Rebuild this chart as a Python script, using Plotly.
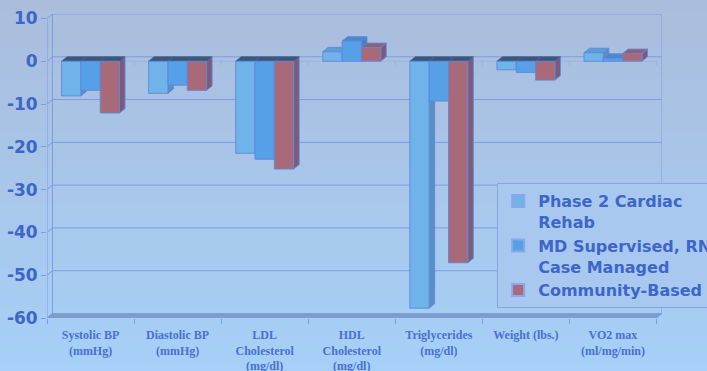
import plotly.graph_objects as go

# Change in risk factors by program type
categories = [
    "Systolic BP<br>(mmHg)",
    "Diastolic BP<br>(mmHg)",
    "LDL<br>Cholesterol<br>(mg/dl)",
    "HDL<br>Cholesterol<br>(mg/dl)",
    "Triglycerides<br>(mg/dl)",
    "Weight (lbs.)",
    "VO2 max<br>(ml/mg/min)",
]
series_names = [
    "Phase 2 Cardiac<br>Rehab",
    "MD Supervised, RN<br>Case Managed",
    "Community-Based",
]
phase2_rehab = [-8.1, -7.5, -21.5, 2.2, -57.7, -2.0, 2.0]
md_rn_managed = [-6.8, -5.6, -22.9, 4.7, -9.3, -2.6, 0.7]
community_based = [-12.1, -6.8, -25.2, 3.2, -47.1, -4.4, 1.8]
y_ticks = [10, 0, -10, -20, -30, -40, -50, -60]

series_values = [phase2_rehab, md_rn_managed, community_based]

# styling
Y_MIN, Y_MAX = -60, 10
DX, DY = 0.063, 1.05            # depth offset of the 3-D box (category units, value units)
GROUP_W = 0.666
BAR_W = GROUP_W / 3
front_cols = ["#6fb3ea", "#55a0e6", "#a86a78"]
side_cols = ["#5a8fc2", "#4680c2", "#7c5a78"]
top_pos_cols = ["#5c9dd6", "#4a88cc", "#93606f"]
cap_col = "#3d5673"
edge_col = "rgba(95,135,220,0.9)"
grid_col = "#7b9de0"
text_blue = "#3d66c8"

n = len(categories)
x_lo, x_hi = -0.5, n - 0.5

fig = go.Figure()

# background gradient bands
top_rgb = (170, 189, 220)
bot_rgb = (166, 208, 248)
fig_h, plot_top_px, plot_bot_px = 371, 14, 318
nb = 40
for b in range(nb):
    r0 = fig_h * b / nb
    r1 = fig_h * (b + 1) / nb + 1
    t = (b + 0.5) / nb
    c = tuple(round(top_rgb[k] + (bot_rgb[k] - top_rgb[k]) * t) for k in range(3))
    span = plot_bot_px - plot_top_px
    fig.add_shape(
        type="rect", xref="paper", yref="paper",
        x0=-0.2, x1=1.2,
        y0=(plot_bot_px - r1) / span, y1=(plot_bot_px - r0) / span,
        fillcolor="rgb(%d,%d,%d)" % c, line_width=0, layer="below",
    )

# back wall gridlines and left wall connectors
gx, gy = [], []
for g in y_ticks:
    gx += [x_lo, x_lo + DX, x_hi + DX, None]
    gy += [g, g + DY, g + DY, None]
# back wall vertical edges
gx += [x_lo + DX, x_lo + DX, None, x_hi + DX, x_hi + DX, None]
gy += [Y_MIN + DY, Y_MAX + DY, None, Y_MIN + DY, Y_MAX + DY, None]
fig.add_trace(go.Scatter(x=gx, y=gy, mode="lines", line=dict(color=grid_col, width=1),
                         hoverinfo="skip", showlegend=False))

# floor
fig.add_trace(go.Scatter(
    x=[x_lo, x_hi, x_hi + DX, x_lo + DX, x_lo],
    y=[Y_MIN, Y_MIN, Y_MIN + DY, Y_MIN + DY, Y_MIN],
    mode="lines", fill="toself", fillcolor="#7c9dca",
    line=dict(color="#7c9ee0", width=1), hoverinfo="skip", showlegend=False))

# front y-axis line
fig.add_trace(go.Scatter(x=[x_lo, x_lo], y=[Y_MIN, Y_MAX], mode="lines",
                         line=dict(color=grid_col, width=1), hoverinfo="skip", showlegend=False))

# zero category line with ticks at category boundaries
zx, zy = [x_lo, x_hi, None], [0, 0, None]
for i in range(n + 1):
    zx += [x_lo + i, x_lo + i, None]
    zy += [0, -1.0, None]
fig.add_trace(go.Scatter(x=zx, y=zy, mode="lines", line=dict(color="#9bb3e0", width=1),
                         hoverinfo="skip", showlegend=False))


def bar_faces(values, k):
    fx, fy, sx, sy, tx, ty, cx, cy = [], [], [], [], [], [], [], []
    for i, v in enumerate(values):
        x0 = i - GROUP_W / 2 + k * BAR_W
        x1 = x0 + BAR_W
        lo, hi = min(v, 0), max(v, 0)
        fx += [x0, x1, x1, x0, x0, None]
        fy += [lo, lo, hi, hi, lo, None]
        sx += [x1, x1 + DX, x1 + DX, x1, x1, None]
        sy += [lo, lo + DY, hi + DY, hi, lo, None]
        top = [x0, x1, x1 + DX, x0 + DX, x0, None]
        topy = [hi, hi, hi + DY, hi + DY, hi, None]
        if v >= 0:
            tx += top
            ty += topy
        else:
            cx += top
            cy += topy
    return (fx, fy), (sx, sy), (tx, ty), (cx, cy)


for k, (name, vals) in enumerate(zip(series_names, series_values)):
    (fx, fy), (sx, sy), (tx, ty), (cx, cy) = bar_faces(vals, k)
    common = dict(mode="lines", fill="toself", hoverinfo="skip", showlegend=False)
    fig.add_trace(go.Scatter(x=sx, y=sy, fillcolor=side_cols[k],
                             line=dict(color=edge_col, width=1), **common))
    if tx:
        fig.add_trace(go.Scatter(x=tx, y=ty, fillcolor=top_pos_cols[k],
                                 line=dict(color=edge_col, width=1), **common))
    if cx:
        fig.add_trace(go.Scatter(x=cx, y=cy, fillcolor=cap_col,
                                 line=dict(color="rgba(70,100,150,0.9)", width=1), **common))
    fig.add_trace(go.Scatter(x=fx, y=fy, fillcolor=front_cols[k],
                             line=dict(color=edge_col, width=1), **common))
    # legend entry
    fig.add_trace(go.Scatter(
        x=[None], y=[None], mode="markers", name=name,
        marker=dict(symbol="square", size=9, color=front_cols[k],
                    line=dict(color="#8aa8e8", width=1)),
        showlegend=True))

# boundary tick marks under the floor
fig.add_trace(go.Scatter(x=[None], y=[None], xaxis="x2", showlegend=False, hoverinfo="skip"))

fig.update_layout(
    width=707, height=371,
    margin=dict(l=47, r=45, t=14, b=53, autoexpand=False),
    paper_bgcolor="rgb(168,198,234)",
    plot_bgcolor="rgba(0,0,0,0)",
    showlegend=True,
    legend=dict(
        x=0.732, y=0.444, xanchor="left", yanchor="top",
        bgcolor="rgb(168,200,240)", bordercolor="#86a6e0", borderwidth=1,
        font=dict(family="DejaVu Sans", size=16, color=text_blue, weight="bold"),
        valign="top", tracegroupgap=0, itemsizing="constant",
    ),
    xaxis=dict(
        range=[x_lo, x_hi + DX], tickvals=list(range(n)), ticktext=categories,
        showgrid=False, zeroline=False, showline=False, ticks="",
        ticklabelstandoff=8,
        tickfont=dict(family="Liberation Serif", size=12, color="#4a70d0", weight="bold"),
        fixedrange=True,
    ),
    xaxis2=dict(
        range=[x_lo, x_hi + DX], overlaying="x", side="bottom",
        tickvals=[x_lo + i for i in range(n + 1)], ticks="outside", ticklen=5,
        tickcolor=grid_col, showticklabels=False, showgrid=False, zeroline=False,
        showline=False,
    ),
    yaxis=dict(
        range=[Y_MIN, Y_MAX + DY], tickvals=y_ticks, ticktext=[str(v) for v in y_ticks],
        showgrid=False, zeroline=False, showline=False,
        ticks="outside", ticklen=5, tickcolor=grid_col,
        tickfont=dict(family="DejaVu Sans", size=17, color=text_blue, weight="bold"),
        fixedrange=True,
    ),
)

fig.write_html("out.html")
